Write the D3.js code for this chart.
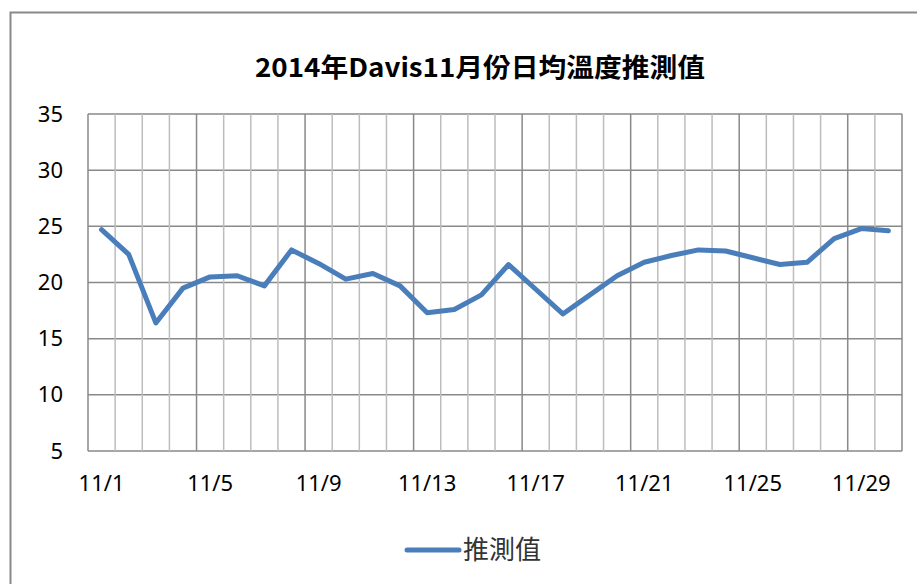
<!DOCTYPE html>
<html>
<head>
<meta charset="utf-8">
<script src="https://cdn.jsdelivr.net/npm/d3@7"></script>
<style>
  body { margin: 0; background: #fff; }
  svg { display: block; }
  .axis text { font-family: "Noto Sans", "Open Sans", sans-serif; fill: #000; }
</style>
</head>
<body>
<div id="chart"></div>
<script>
/* chart data */
var days = ["11/1", "11/2", "11/3", "11/4", "11/5", "11/6", "11/7", "11/8", "11/9", "11/10",
            "11/11", "11/12", "11/13", "11/14", "11/15", "11/16", "11/17", "11/18", "11/19", "11/20",
            "11/21", "11/22", "11/23", "11/24", "11/25", "11/26", "11/27", "11/28", "11/29", "11/30"];
var temps = [24.7, 22.5, 16.4, 19.5, 20.5, 20.6, 19.7, 22.9, 21.7, 20.3,
             20.8, 19.7, 17.3, 17.6, 18.9, 21.6, 19.4, 17.2, 18.9, 20.6,
             21.8, 22.4, 22.9, 22.8, 22.2, 21.6, 21.8, 23.9, 24.8, 24.6];
var xTickLabels = ["11/1", "11/5", "11/9", "11/13", "11/17", "11/21", "11/25", "11/29"];
var yTicks = [5, 10, 15, 20, 25, 30, 35];
var seriesName = "推測值";
var title = "2014年Davis11月份日均溫度推測值";

var width = 917, height = 584;
var plot = { left: 88, right: 902, top: 114, bottom: 451 };

var svg = d3.select("#chart").append("svg")
    .attr("width", width)
    .attr("height", height);

/* outer chart border (only top and left fall inside the picture) */
svg.append("rect")
    .attr("x", 10.5).attr("y", 12.5)
    .attr("width", width + 20).attr("height", height + 20)
    .attr("fill", "none")
    .attr("stroke", "#898989")
    .attr("stroke-width", 2);

/* scales */
var x = d3.scaleBand().domain(days).range([plot.left, plot.right]);
var y = d3.scaleLinear().domain([5, 35]).range([plot.bottom, plot.top]);

/* horizontal grid lines */
svg.append("g").selectAll("line")
    .data(yTicks)
    .enter().append("line")
    .attr("x1", plot.left).attr("x2", plot.right)
    .attr("y1", function (d) { return y(d); })
    .attr("y2", function (d) { return y(d); })
    .attr("stroke", "#898989")
    .attr("stroke-width", 1.5);

/* vertical grid lines on category boundaries, darker every 4 days */
var bounds = days.map(function (d) { return x(d); }).concat([plot.right]);
svg.append("g").selectAll("line")
    .data(bounds)
    .enter().append("line")
    .attr("x1", function (d) { return d; })
    .attr("x2", function (d) { return d; })
    .attr("y1", plot.top).attr("y2", plot.bottom)
    .attr("stroke", function (d, i) { return (i % 4 === 0 || i === days.length) ? "#898989" : "#bdbdbd"; })
    .attr("stroke-width", 1.5);

/* y axis */
var yAxis = d3.axisLeft(y).tickValues(yTicks).tickSize(0).tickPadding(25);
svg.append("g")
    .attr("class", "axis")
    .attr("transform", "translate(" + plot.left + ",0)")
    .call(yAxis)
    .call(function (g) { g.select(".domain").remove(); })
    .selectAll("text").style("font-size", "22px");

/* x axis */
var xAxis = d3.axisBottom(x).tickValues(xTickLabels).tickSize(0).tickPadding(24);
svg.append("g")
    .attr("class", "axis")
    .attr("transform", "translate(0," + plot.bottom + ")")
    .call(xAxis)
    .call(function (g) { g.select(".domain").remove(); })
    .selectAll("text").style("font-size", "22px");

/* the line */
var valueline = d3.line()
    .x(function (d, i) { return x(days[i]) + x.bandwidth() / 2; })
    .y(function (d) { return y(d); });

svg.append("path")
    .datum(temps)
    .attr("d", valueline)
    .attr("fill", "none")
    .attr("stroke", "#4a7ebb")
    .attr("stroke-width", 5)
    .attr("stroke-linejoin", "round")
    .attr("stroke-linecap", "round");

/* title */
svg.append("text")
    .attr("x", 480).attr("y", 77)
    .attr("text-anchor", "middle")
    .attr("textLength", 450)
    .attr("lengthAdjust", "spacingAndGlyphs")
    .style("font-family", "'Noto Sans CJK TC', 'Noto Sans', sans-serif")
    .style("font-weight", "bold")
    .style("font-size", "26px")
    .text(title);

/* legend */
svg.append("line")
    .attr("x1", 407).attr("x2", 459)
    .attr("y1", 550).attr("y2", 550)
    .attr("stroke", "#4a7ebb")
    .attr("stroke-width", 5)
    .attr("stroke-linecap", "round");

svg.append("text")
    .attr("x", 463).attr("y", 559)
    .style("font-family", "'Noto Sans CJK TC', sans-serif")
    .style("font-size", "26px")
    .style("fill", "#333")
    .text(seriesName);
</script>
</body>
</html>
